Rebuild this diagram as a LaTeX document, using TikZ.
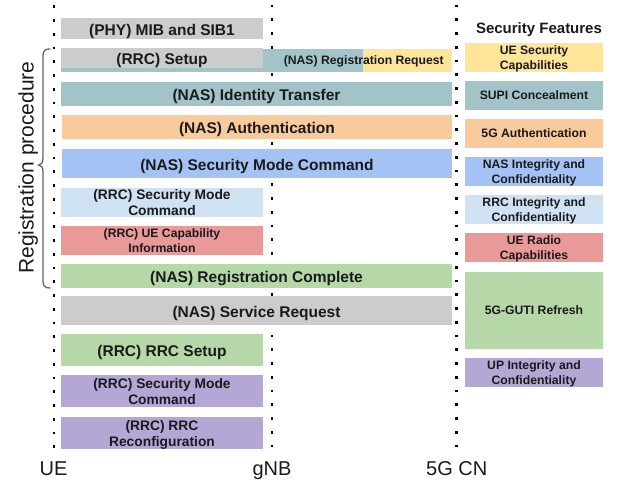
\documentclass[tikz,border=0pt]{standalone}
\usepackage{fontspec}
\setmainfont{Liberation Sans}
\definecolor{cgrey}{HTML}{CCCCCC}
\definecolor{cteal}{HTML}{A2C4C9}
\definecolor{cyellow}{HTML}{FFE599}
\definecolor{corange}{HTML}{F9CB9C}
\definecolor{cblue}{HTML}{A4C2F4}
\definecolor{clblue}{HTML}{CFE2F3}
\definecolor{cred}{HTML}{EA9999}
\definecolor{cgreen}{HTML}{B6D7A8}
\definecolor{cpurple}{HTML}{B4A7D6}
\definecolor{ctext}{HTML}{1A1A1A}
\tikzset{
  box/.style={rectangle, inner sep=0pt, align=center, text=ctext, text depth=0pt},
  big/.style={font=\fontsize{15.5}{17.5}\selectfont\bfseries},
  one/.style={text height=16.4pt, text depth=3.3pt},
  mid/.style={font=\fontsize{13.8}{16}\selectfont\bfseries},
  small/.style={font=\fontsize{12.2}{14.4}\selectfont\bfseries},
  lane/.style={line width=2.7pt, dash pattern=on 2.7pt off 11.05pt},
  wide/.style={minimum width=391pt},
  half/.style={minimum width=202pt},
  feat/.style={box, small, minimum width=138pt, minimum height=29pt},
  entity/.style={font=\fontsize{20}{22}\selectfont, anchor=base, text=ctext},
}
\begin{document}
\begin{tikzpicture}[x=1pt,y=-1pt]
\useasboundingbox (0,0) rectangle (618,482);
% lifelines
\coordinate (ueT) at (54,5.4);   \coordinate (ueB) at (54,448);
\coordinate (gnbT) at (272,4.7); \coordinate (gnbB) at (272,447);
\coordinate (cnT) at (456.7,4.7); \coordinate (cnB) at (456.7,447);
\draw[lane] (ueT) -- (ueB);
\draw[lane] (gnbT) -- (gnbB);
\draw[lane] (cnT) -- (cnB);
% message boxes
\node[box, big, one, half, fill=cgrey, minimum height=21pt] (phy) at (162,28.5) {(PHY) MIB and SIB1};
\node[box, fill=cteal, minimum width=302pt, minimum height=23pt] (regteal) at (212,60.5) {};
\node[box, fill=cyellow, minimum width=89pt, minimum height=23pt] (regyel) at (407.5,60.5) {};
\node[box, big, one, half, fill=cgrey, minimum height=18pt] (rrcsetup) at (162,58) {(RRC) Setup};
\node[box, small] (regreq) at (363.8,60.2) {(NAS) Registration Request};
\node[box, big, one, wide, fill=cteal, minimum height=24pt] (ident) at (256.5,94) {(NAS) Identity Transfer};
\node[box, big, one, minimum width=390pt, fill=corange, minimum height=24pt] (auth) at (257,127) {(NAS) Authentication};
\node[box, big, one, minimum width=390pt, fill=cblue, minimum height=29pt] (nassmc) at (257,163.5) {(NAS) Security Mode Command};
\node[box, mid, half, fill=clblue, minimum height=29pt] (rrcsmc) at (162,202.5) {(RRC) Security Mode\\Command};
\node[box, small, half, fill=cred, minimum height=29pt] (uecap) at (162,240.5) {(RRC) UE Capability\\Information};
\node[box, big, one, wide, fill=cgreen, minimum height=24pt] (regc) at (256.5,276) {(NAS) Registration Complete};
\node[box, big, one, wide, fill=cgrey, minimum height=29pt] (serv) at (256.5,310.5) {(NAS) Service Request};
\node[box, big, one, half, fill=cgreen, minimum height=32pt] (rrcs2) at (162,350) {(RRC) RRC Setup};
\node[box, mid, half, fill=cpurple, minimum height=32pt] (rrcsmc2) at (162,391) {(RRC) Security Mode\\Command};
\node[box, mid, half, fill=cpurple, minimum height=32pt] (reconf) at (162,433) {(RRC) RRC\\Reconfiguration};
% security features
\node[box, font=\fontsize{15}{17}\selectfont\bfseries, text height=11pt, text depth=0pt] (title) at (539,28.3) {Security Features};
\node[feat, fill=cyellow] (f1) at (534,57.5) {UE Security\\Capabilities};
\node[feat, fill=cteal] (f2) at (534,95.5) {SUPI Concealment};
\node[feat, fill=corange] (f3) at (534,133.5) {5G Authentication};
\node[feat, fill=cblue] (f4) at (534,171.5) {NAS Integrity and\\Confidentiality};
\node[feat, fill=clblue] (f5) at (534,209.5) {RRC Integrity and\\Confidentiality};
\node[feat, fill=cred] (f6) at (534,247.5) {UE Radio\\Capabilities};
\node[feat, fill=cgreen, minimum height=77pt] (f7) at (534,310.5) {5G-GUTI Refresh};
\node[feat, fill=cpurple] (f8) at (534,372.5) {UP Integrity and\\Confidentiality};
% entity labels
\node[entity] (ue) at (53.5,475) {UE};
\node[entity] (gnb) at (272,475) {gNB};
\node[entity] (cn) at (456.7,475) {5G CN};
% registration brace
\draw[line width=1.3pt, color=black!60, line cap=round]
  (50,49) .. controls (45,49) and (43,51) .. (43,56) -- (43,158)
  .. controls (43,163) and (41,165) .. (38.5,165)
  .. controls (41,165) and (43,167) .. (43,172) -- (43,281)
  .. controls (43,286) and (45,288) .. (50,288);
\node[rotate=90, anchor=base, font=\fontsize{21}{24}\selectfont, text=ctext] (regproc) at (33.5,167.5) {Registration procedure};
\end{tikzpicture}
\end{document}
